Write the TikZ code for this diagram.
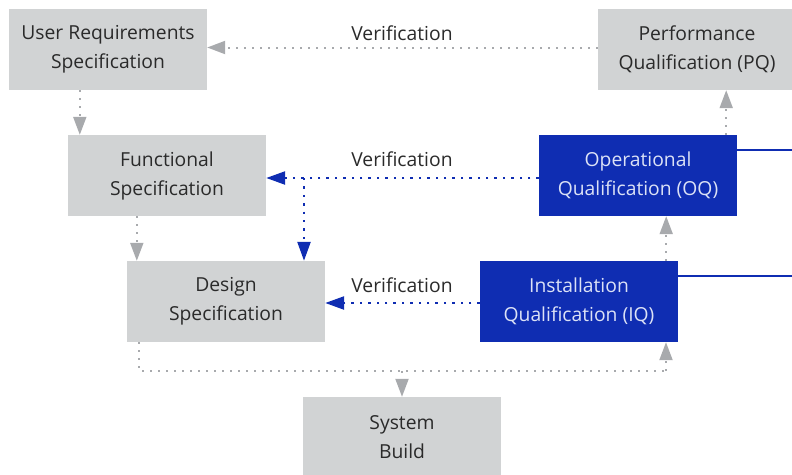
\documentclass[tikz,border=0pt]{standalone}
\usepackage{fontspec}
\setmainfont{Open Sans}
\usetikzlibrary{arrows.meta,calc}
\definecolor{boxgrey}{HTML}{D1D3D4}
\definecolor{qblue}{HTML}{0F2DB2}
\definecolor{qtext}{HTML}{DCE2F6}
\definecolor{agrey}{HTML}{A8AAAD}
\definecolor{ttext}{HTML}{2A2A2A}
\tikzset{
  gbox/.style={rectangle, fill=boxgrey, minimum width=198pt, minimum height=81pt, inner sep=0pt, align=center, text=ttext, font=\fontsize{19.3}{29}\selectfont},
  bbox/.style={gbox, fill=qblue, text=qtext},
  garrow/.style={draw=agrey, line width=2pt, dash pattern=on 2pt off 6pt, -{Triangle[width=13pt,length=18pt,fill=agrey]}},
  gline/.style={draw=agrey, line width=2pt, dash pattern=on 2pt off 6pt},
  barrow/.style={draw=qblue, line width=2.4pt, dash pattern=on 2.4pt off 6pt, -{Triangle[width=13pt,length=19pt,fill=qblue]}},
  bline/.style={draw=qblue, line width=2pt},
  vlabel/.style={text=ttext, font=\fontsize{19.3}{29}\selectfont, inner sep=0pt}
}
\begin{document}
\begin{tikzpicture}[x=1pt,y=-1pt]
\useasboundingbox (0,0) rectangle (792,474);
\begin{scope}
\clip (0,0) rectangle (792,474);
\node[gbox] (URS) at (108,49.5) {User Requirements\\Specification};
\node[gbox] (PQ) at (697,49.5) {Performance\\Qualification (PQ)};
\node[gbox] (FS) at (167,175.5) {Functional\\Specification};
\node[bbox] (OQ) at (638,175.5) {Operational\\Qualification (OQ)};
\node[gbox] (DS) at (226,301.5) {Design\\Specification};
\node[bbox] (IQ) at (579,301.5) {Installation\\Qualification (IQ)};
\node[gbox] (SB) at (402,437.5) {System\\Build};
\end{scope}
\node[vlabel] (v1) at (402,33) {Verification};
\node[vlabel] (v2) at (402,159) {Verification};
\node[vlabel] (v3) at (402,285) {Verification};
\coordinate (oqend) at (792,150);
\coordinate (iqend) at (792,276);
\coordinate (j1) at (304,178);
\coordinate (l2) at (666,371);
\coordinate (br) at (402,371);
% grey connectors
\draw[garrow] ([yshift=2pt]PQ.west) -- ([yshift=2pt]URS.east);
\draw[garrow] ([xshift=71pt]URS.south west) -- ([xshift=12pt]FS.north west);
\draw[garrow] ([xshift=69pt]FS.south west) -- ([xshift=10pt]DS.north west);
\draw[garrow] ([xshift=-11pt]OQ.north east) -- ([xshift=-11pt]PQ.south -| OQ.north east);
\draw[garrow] ([xshift=-12pt]IQ.north east) -- ([xshift=-12pt]OQ.south -| IQ.north east);
\draw[gline] ([xshift=12pt]DS.south west) |- (l2);
\draw[garrow] (l2) -- (l2 |- IQ.south);
\draw[garrow] (br) -- (SB.north);
% blue connectors
\draw[barrow] ([yshift=-2.5pt]OQ.west) -- ([yshift=-2.5pt]FS.east);
\draw[barrow] (j1) -- (j1 |- DS.north);
\draw[barrow] ([yshift=-1.5pt]IQ.west) -- ([yshift=-1.5pt]DS.east);
\draw[bline] ([yshift=25.5pt]OQ.east) -- (oqend);
\draw[bline] ([yshift=25.5pt]IQ.east) -- (iqend);
\end{tikzpicture}
\end{document}
